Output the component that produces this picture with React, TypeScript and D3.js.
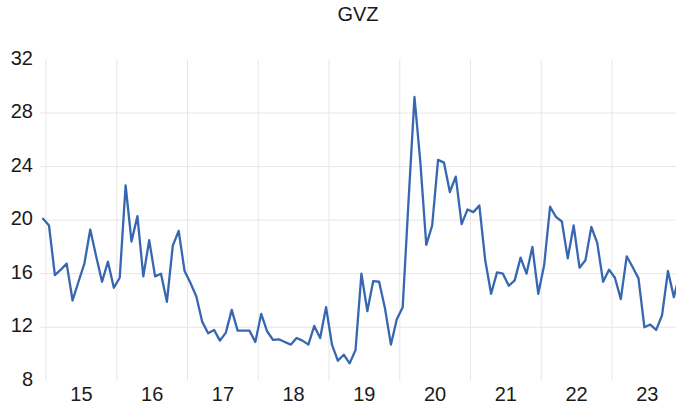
import React from "react";
import * as d3 from "d3";

const title = "GVZ";
const startYear = 2014;
const startMonth = 11; // December (0-based), first observation
const yearLabels = ["15", "16", "17", "18", "19", "20", "21", "22", "23"];
const yTicks = [8, 12, 16, 20, 24, 28, 32];
const gridValues = [12, 16, 20, 24, 28];

const gvz = [
  20.1,
  19.6, 15.9, 16.3, 16.75, 14.0, 15.4, 16.75, 19.3, 17.3, 15.4, 16.9, 14.95,
  15.7, 22.6, 18.4, 20.3, 15.8, 18.5, 15.8, 16.0, 13.9, 18.1, 19.2, 16.2,
  15.3, 14.3, 12.4, 11.55, 11.8, 11.0, 11.6, 13.3, 11.75, 11.75, 11.75, 10.9,
  13.0, 11.7, 11.05, 11.1, 10.9, 10.7, 11.2, 11.0, 10.7, 12.1, 11.2, 13.5,
  10.7, 9.5, 9.95, 9.3, 10.3, 16.0, 13.2, 15.45, 15.4, 13.4, 10.7, 12.6,
  13.5, 21.5, 29.2, 24.3, 18.15, 19.6, 24.5, 24.3, 22.1, 23.25, 19.7, 20.8,
  20.6, 21.1, 17.0, 14.5, 16.1, 16.0, 15.1, 15.5, 17.2, 16.0, 18.0, 14.5,
  16.65, 21.0, 20.25, 19.9, 17.15, 19.6, 16.45, 17.0, 19.5, 18.3, 15.4, 16.3,
  15.7, 14.1, 17.3, 16.5, 15.65, 12.0, 12.2, 11.8, 12.9, 16.2, 14.25, 16.0,
];

const W = 676;
const H = 412;
const plotLeft = 40.15;
const step = 5.895;
const plotTop = 59.5;
const plotBottom = 380.8;

export default function App() {
  const idx = gvz.map((_, i) => i);
  const x = d3
    .scaleBand<number>()
    .domain(idx)
    .range([plotLeft, plotLeft + step * gvz.length])
    .padding(0);
  const y = d3.scaleLinear().domain([8, 32]).range([plotBottom, plotTop]);
  const cx = (i: number) => (x(i) as number) + x.bandwidth() / 2;

  const line = d3
    .line<number>()
    .x((_, i) => cx(i))
    .y((v) => y(v));

  // index of each January
  const years = yearLabels.map((lab, k) => {
    const janIdx = (startYear + 1 + k - startYear) * 12 - startMonth;
    const start = x(janIdx) as number;
    const end = start + 12 * x.bandwidth();
    return { lab, start, mid: (start + end) / 2 };
  });

  const font = "'Liberation Sans', Arial, sans-serif";

  return (
    <svg
      width={W}
      height={H}
      style={{ position: "absolute", left: 0, top: 0, background: "#fff" }}
      fontFamily={font}
    >
      <rect x={0} y={0} width={W} height={H} fill="#fff" />
      {gridValues.map((v) => (
        <line
          key={"h" + v}
          x1={plotLeft}
          x2={W}
          y1={y(v)}
          y2={y(v)}
          stroke="#e6e6e6"
          strokeWidth={1}
        />
      ))}
      {years.map((yr) => (
        <line
          key={"v" + yr.lab}
          x1={yr.start}
          x2={yr.start}
          y1={plotTop}
          y2={plotBottom}
          stroke="#e6e6e6"
          strokeWidth={1}
        />
      ))}
      <path
        d={line(gvz) || ""}
        fill="none"
        stroke="#3767b1"
        strokeWidth={2.3}
        strokeLinejoin="round"
        strokeLinecap="round"
      />
      {yTicks.map((v) => (
        <text
          key={"yt" + v}
          x={33}
          y={y(v) - 2}
          textAnchor="end"
          dominantBaseline="central"
          fontSize={20}
          fill="#1a1a1a"
        >
          {v}
        </text>
      ))}
      {years.map((yr) => (
        <text
          key={"xt" + yr.lab}
          x={yr.mid}
          y={401}
          textAnchor="middle"
          fontSize={20}
          fill="#1a1a1a"
        >
          {yr.lab}
        </text>
      ))}
      <text x={358} y={21} textAnchor="middle" fontSize={20} fill="#1a1a1a">
        {title}
      </text>
    </svg>
  );
}
